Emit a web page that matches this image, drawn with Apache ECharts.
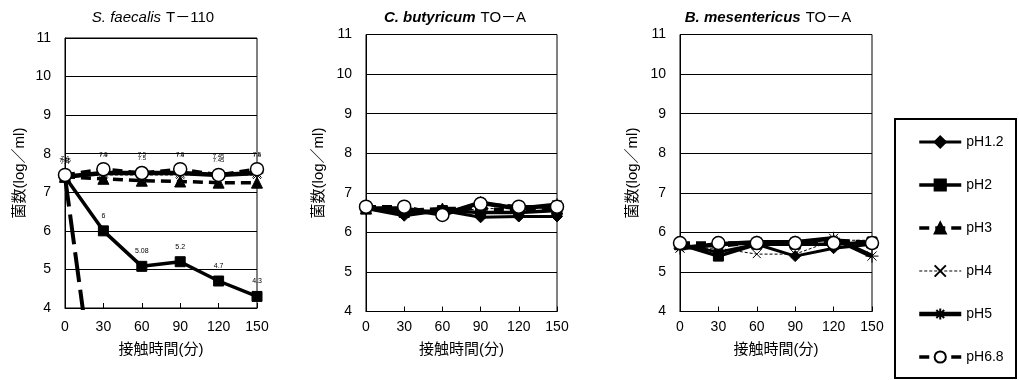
<!DOCTYPE html>
<html>
<head>
<meta charset="utf-8">
<title>菌数の推移</title>
<script src="https://cdn.jsdelivr.net/npm/echarts@6.0.0/dist/echarts.min.js"></script>
<style>
  html, body { margin: 0; padding: 0; background: #fff; }
  #main { width: 1019px; height: 380px; }
</style>
</head>
<body>
<div id="main"></div>
<script>
// 接触時間(分)
var times = [0, 30, 60, 90, 120, 150];
var phNames = ['pH1.2', 'pH2', 'pH3', 'pH4', 'pH5', 'pH6.8'];

// S. faecalis T-110
var faecalisPH12 = [7.4, 0, 0, 0, 0, 0];
var faecalisPH2 = [7.4, 6, 5.08, 5.2, 4.7, 4.3];
var faecalisPH3 = [7.4, 7.35, 7.3, 7.28, 7.25, 7.25];
var faecalisPH4 = [7.4, 7.45, 7.45, 7.45, 7.45, 7.45];
var faecalisPH5 = [7.4, 7.5, 7.5, 7.5, 7.45, 7.5];
var faecalisPH68 = [7.45, 7.6, 7.5, 7.6, 7.45, 7.6];

// C. butyricum TO-A
var butyricumPH12 = [6.6, 6.42, 6.55, 6.38, 6.4, 6.4];
var butyricumPH2 = [6.6, 6.5, 6.55, 6.5, 6.5, 6.55];
var butyricumPH3 = [6.6, 6.55, 6.6, 6.6, 6.55, 6.6];
var butyricumPH4 = [6.6, 6.5, 6.5, 6.6, 6.6, 6.65];
var butyricumPH5 = [6.6, 6.6, 6.45, 6.75, 6.6, 6.7];
var butyricumPH68 = [6.65, 6.65, 6.44, 6.72, 6.65, 6.65];

// B. mesentericus TO-A
var mesentericusPH12 = [5.7, 5.5, 5.7, 5.4, 5.6, 5.7];
var mesentericusPH2 = [5.7, 5.4, 5.7, 5.7, 5.7, 5.75];
var mesentericusPH3 = [5.7, 5.65, 5.75, 5.75, 5.8, 5.75];
var mesentericusPH4 = [5.6, 5.6, 5.45, 5.45, 5.8, 5.8];
var mesentericusPH5 = [5.6, 5.7, 5.75, 5.75, 5.85, 5.4];
var mesentericusPH68 = [5.73, 5.73, 5.73, 5.73, 5.73, 5.73];

var chartData = [
    [faecalisPH12, faecalisPH2, faecalisPH3, faecalisPH4, faecalisPH5, faecalisPH68],
    [butyricumPH12, butyricumPH2, butyricumPH3, butyricumPH4, butyricumPH5, butyricumPH68],
    [mesentericusPH12, mesentericusPH2, mesentericusPH3, mesentericusPH4, mesentericusPH5, mesentericusPH68]
];

var FONT = '"Liberation Sans", "Noto Sans CJK JP", sans-serif';

var grids = [
    {left: 65, top: 38, width: 192, height: 270},
    {left: 366, top: 34.5, width: 191, height: 277},
    {left: 680, top: 34.5, width: 192, height: 277}
];

// 系列ごとの線・マーカー
var styles = {
    'pH1.2': {symbol: 'diamond', symbolSize: 11, lineStyle: {color: '#000', width: 3}, itemStyle: {color: '#000', borderColor: '#000', borderWidth: 1}},
    'pH2': {symbol: 'rect', symbolSize: 10, lineStyle: {color: '#000', width: 3.5}, itemStyle: {color: '#000', borderColor: '#000', borderWidth: 1}},
    'pH3': {symbol: 'triangle', symbolSize: 11, lineStyle: {color: '#000', width: 3.5, type: [10, 6]}, itemStyle: {color: '#000', borderColor: '#000', borderWidth: 1}},
    'pH4': {symbol: 'path://M0,0L10,10M10,0L0,10', symbolSize: 8, lineStyle: {color: '#000', width: 1, type: [3, 2]}, itemStyle: {color: '#000', borderColor: '#000', borderWidth: 1}},
    'pH5': {symbol: 'path://M0,5L10,5M5,0L5,10M1.5,1.5L8.5,8.5M8.5,1.5L1.5,8.5', symbolSize: 13, lineStyle: {color: '#000', width: 4.5}, itemStyle: {color: '#000', borderColor: '#000', borderWidth: 1}},
    'pH6.8': {symbol: 'circle', symbolSize: 13, lineStyle: {color: '#000', width: 3.5, type: [10, 6]}, itemStyle: {color: '#fff', borderColor: '#000', borderWidth: 1.5}}
};

var myChart = echarts.init(document.getElementById('main'), null, {renderer: 'canvas'});

var xAxes = [], yAxes = [], series = [];
grids.forEach(function (g, gi) {
    xAxes.push({
        type: 'value', gridIndex: gi, min: 0, max: 150, interval: 30,
        name: '接触時間(分)', nameLocation: 'middle', nameGap: gi === 0 ? 34 : 31,
        nameTextStyle: {fontFamily: FONT, fontSize: 15, color: '#000'},
        axisLine: {lineStyle: {color: '#000', width: 1}},
        axisTick: {inside: true, length: 5, lineStyle: {color: '#000'}},
        axisLabel: {fontFamily: FONT, fontSize: 14, color: '#000', margin: gi === 0 ? 12 : 9},
        splitLine: {show: false}
    });
    yAxes.push({
        type: 'value', gridIndex: gi, min: 4, max: 11, interval: 1,
        name: '菌数(log／ml)', nameLocation: 'middle', nameGap: gi === 0 ? 38 : 40,
        nameTextStyle: {fontFamily: FONT, fontSize: 15, color: '#000'},
        axisLine: {show: true, lineStyle: {color: '#000', width: 1}},
        axisTick: {show: false},
        axisLabel: {fontFamily: FONT, fontSize: 14, color: '#000', margin: 14},
        splitLine: {show: true, lineStyle: {color: '#000', width: 1}}
    });
    chartData[gi].forEach(function (vals, si) {
        var name = phNames[si];
        var st = styles[name];
        var lineStyle = echarts.util.clone(st.lineStyle);
        if (gi === 0 && name === 'pH1.2') {
            lineStyle.type = [30, 8];
            lineStyle.width = 4;
        }
        var s = {
            name: name,
            type: 'line',
            xAxisIndex: gi,
            yAxisIndex: gi,
            data: times.map(function (t, i) { return [t, vals[i]]; }),
            symbol: st.symbol,
            symbolSize: st.symbolSize,
            lineStyle: lineStyle,
            itemStyle: st.itemStyle,
            clip: true,
            animation: false
        };
        // S. faecalis のデータラベル
        if (gi === 0 && (name === 'pH2' || name === 'pH6.8' || name === 'pH5')) {
            s.label = {
                show: true,
                position: 'top',
                distance: name === 'pH2' ? 6 : (name === 'pH5' ? 9 : 4),
                fontFamily: FONT,
                fontSize: name === 'pH2' ? 7 : 6,
                color: '#000',
                formatter: function (p) { return p.value[1]; }
            };
        }
        series.push(s);
    });
});

function titleRich(bold) {
    return {
        fontWeight: 'normal',
        rich: {
            i: {fontFamily: FONT, fontSize: 15, fontStyle: 'italic', fontWeight: bold ? 'bold' : 'normal', color: '#000'},
            n: {fontFamily: FONT, fontSize: 15, fontWeight: 'normal', color: '#000'}
        }
    };
}

var option = {
    backgroundColor: '#fff',
    animation: false,
    title: [
        {text: '{i|S. faecalis} {n|T－110}', left: 153, top: 9, textAlign: 'center', padding: 0, textStyle: titleRich(false)},
        {text: '{i|C. butyricum} {n|TO－A}', left: 455, top: 9, textAlign: 'center', padding: 0, textStyle: titleRich(true)},
        {text: '{i|B. mesentericus} {n|TO－A}', left: 768, top: 9, textAlign: 'center', padding: 0, textStyle: titleRich(true)}
    ],
    grid: grids.map(function (g) {
        return {left: g.left, top: g.top, width: g.width, height: g.height, show: true, borderColor: '#000', borderWidth: 1, backgroundColor: '#fff'};
    }),
    xAxis: xAxes,
    yAxis: yAxes,
    legend: {
        orient: 'vertical',
        left: 917,
        top: 135,
        itemWidth: 42,
        itemHeight: 14,
        itemGap: 29,
        padding: 0,
        selectedMode: false,
        textStyle: {fontFamily: FONT, fontSize: 14, color: '#000'},
        data: phNames.map(function (n) {
            return {name: n, lineStyle: {type: styles[n].lineStyle.type || 'solid', width: styles[n].lineStyle.width}};
        })
    },
    graphic: [{
        type: 'rect',
        shape: {x: 895, y: 119, width: 121, height: 259},
        style: {fill: 'none', stroke: '#000', lineWidth: 2},
        z: -1
    }],
    series: series
};
myChart.setOption(option, true);
</script>
</body>
</html>
